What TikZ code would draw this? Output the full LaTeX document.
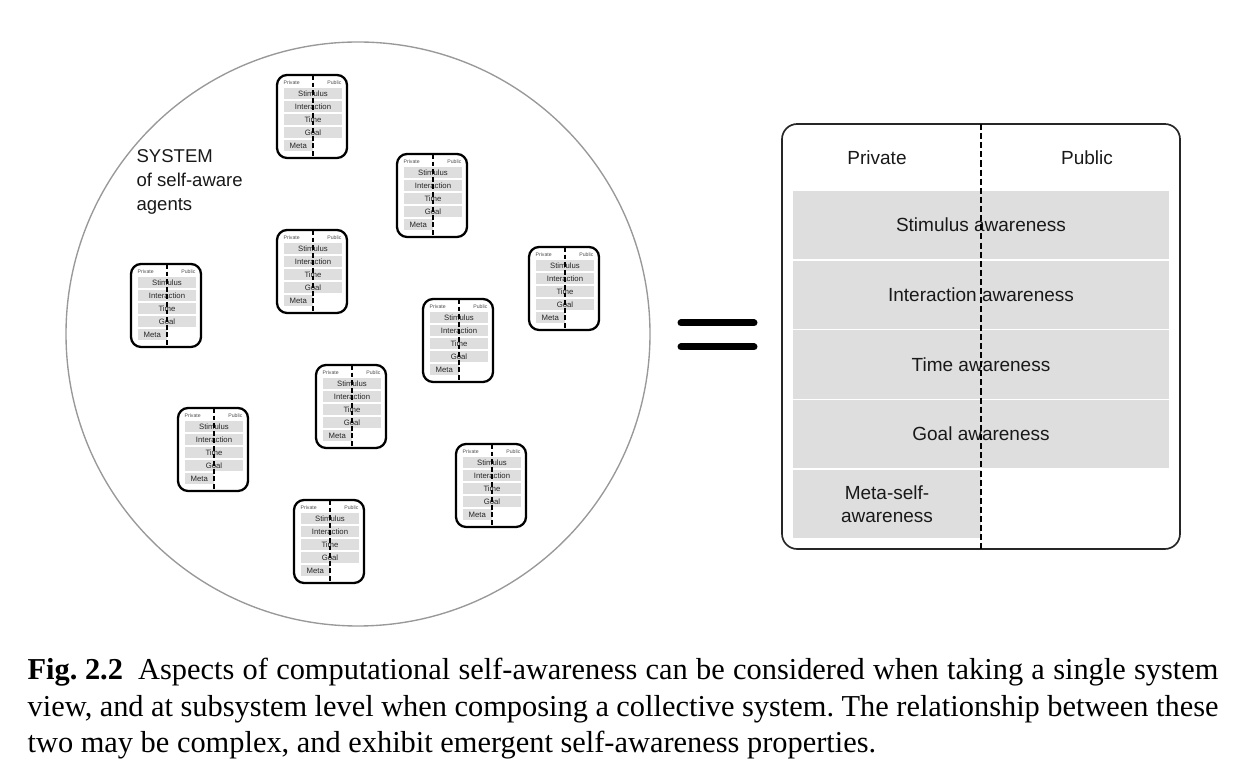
\documentclass[tikz,border=0pt]{standalone}
\usepackage{fontspec}
\setmainfont{Liberation Serif}
\newfontfamily\helv{Liberation Sans}
\definecolor{rowgray}{gray}{0.87}
\definecolor{ringgray}{gray}{0.6}
\tikzset{
  agentframe/.style={draw=black,line width=0.75pt,rounded corners=3.3pt},
  agentdash/.style={line width=0.75pt,dash pattern=on 1.6pt off 0.9pt},
  agentrow/.style={fill=rowgray,inner sep=0pt,minimum width=19.4pt,minimum height=3.6pt,
    font=\helv\fontsize{2.55}{3}\selectfont,text=black!85},
  agentlab/.style={inner sep=0pt,font=\helv\fontsize{1.7}{2}\selectfont,text=black!70},
  bigrow/.style={fill=rowgray,inner sep=0pt,minimum width=123.7pt,minimum height=22.4pt,
    font=\helv\fontsize{6.25}{7.7}\selectfont,text=black!90},
  biglab/.style={inner sep=0pt,font=\helv\fontsize{6.25}{7.7}\selectfont,text=black!90},
  caption/.style={inner sep=0pt,anchor=base west,font=\fontsize{10}{12}\selectfont\frenchspacing},
}
% one small agent, #1 name, (#2,#3) top left corner
\newcommand{\agent}[3]{%
  \begin{scope}[shift={(#2,#3)}]
    \node[agentlab,anchor=west] (#1pr) at (6,8) {Private};
    \node[agentlab,anchor=east] (#1pu) at (65,8) {Public};
    \node[agentrow] (#1s) at (36,18.5) {Stimulus};
    \node[agentrow] (#1i) at (36,31.5) {Interaction};
    \node[agentrow] (#1t) at (36,44.5) {Time};
    \node[agentrow] (#1g) at (36,57.5) {Goal};
    \node[agentrow,minimum width=9.7pt] (#1m) at (21.25,70.5) {Meta};
    \draw[agentframe] (0,0) rectangle (70,83);
    \draw[agentdash] (36,0) -- (36,83);
  \end{scope}}
\begin{document}
\begin{tikzpicture}[x=0.329pt,y=-0.329pt]
\useasboundingbox (0,0) rectangle (1245,782);

% the system
\coordinate (sys) at (358,334);
\draw[ringgray,line width=0.45pt] (sys) circle[radius=292];
\node[biglab,align=left,anchor=north west,font=\helv\fontsize{6.1}{7.9}\selectfont] (syslab) at (136,149)
  {SYSTEM\\of self-aware\\agents};

\foreach \n/\ax/\ay in {a/277/75, b/397/154, c/277/230, d/131/264, e/529/247,
                        f/423/299, g/316/365, h/178/408, i/456/444, j/294/500}
  \agent{\n}{\ax}{\ay};

% equals
\coordinate (eqa) at (681,323);
\coordinate (eqb) at (754,323);
\coordinate (eqc) at (681,347);
\coordinate (eqd) at (754,347);
\draw[line width=2.3pt,line cap=round] (eqa) -- (eqb);
\draw[line width=2.3pt,line cap=round] (eqc) -- (eqd);

% single agent
\node[biglab,anchor=base] (priv) at (877,165) {Private};
\node[biglab,anchor=base] (publ) at (1087,165) {Public};
\node[bigrow] (stim)  at (981,225) {Stimulus awareness};
\node[bigrow] (inter) at (981,295) {Interaction awareness};
\node[bigrow] (time)  at (981,364.5) {Time awareness};
\node[bigrow] (goal)  at (981,434) {Goal awareness};
\node[bigrow,minimum width=61.9pt,align=center] (meta) at (887,504) {Meta-self-\\awareness};
\draw[line width=0.55pt,rounded corners=5pt,draw=black!85] (782,124) rectangle (1180,549);
\draw[line width=0.45pt,dash pattern=on 2pt off 1pt] (981,124) -- (981,549);

% caption
\node[caption] (cap1) at (27,680) {\makebox[391.8pt][s]{\mbox{\textbf{Fig. 2.2}}\enspace Aspects of computational self-awareness can be considered when taking a single system}};
\node[caption] (cap2) at (27,716.5) {\makebox[391.8pt][s]{view, and at subsystem level when composing a collective system. The relationship between these}};
\node[caption] (cap3) at (27,753) {two may be complex, and exhibit emergent self-awareness properties.};

\end{tikzpicture}
\end{document}
